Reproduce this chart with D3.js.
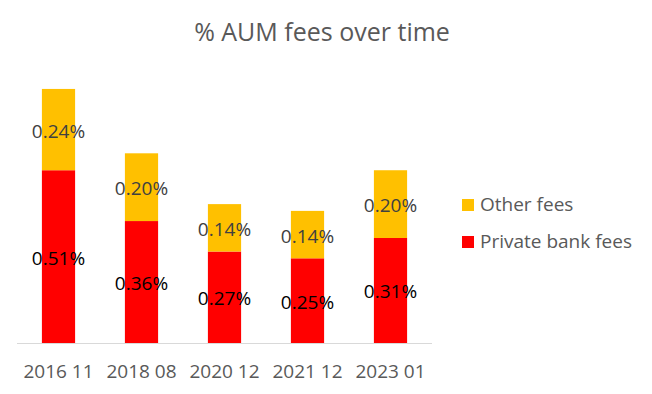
<!DOCTYPE html>
<meta charset="utf-8">
<title>% AUM fees over time</title>
<script src="https://d3js.org/d3.v7.min.js"></script>
<style>
    body { margin: 0; background: #fff; }
    svg text { font-family: "Open Sans", sans-serif; }
</style>
<body>
<div id="chart"></div>
<script>
    // data
    var periods = ["2016 11", "2018 08", "2020 12", "2021 12", "2023 01"];
    var privateBankFees = [0.51, 0.36, 0.27, 0.25, 0.31];
    var otherFees = [0.24, 0.20, 0.14, 0.14, 0.20];
    var seriesNames = ["Private bank fees", "Other fees"];
    var seriesColors = ["#FF0000", "#FFC000"];

    var width = 652, height = 394;
    var svg = d3.select("#chart").append("svg")
        .attr("width", width)
        .attr("height", height);

    // plot area
    var x = d3.scaleBand().domain(periods).range([17, 432]).paddingInner(0.6).paddingOuter(0.3);
    var y = d3.scaleLinear().domain([0, 0.8]).range([343, 72]);

    var rows = periods.map(function (p, i) {
        return { period: p, pb: privateBankFees[i], other: otherFees[i] };
    });
    var stack = d3.stack().keys(["pb", "other"])(rows);

    svg.append("text")
        .attr("x", 322)
        .attr("y", 31)
        .attr("text-anchor", "middle")
        .attr("dominant-baseline", "central")
        .style("font-size", "25px")
        .style("fill", "#595959")
        .text("% AUM fees over time");

    var layers = svg.selectAll("g.layer")
        .data(stack)
        .enter().append("g")
        .attr("class", "layer")
        .attr("fill", function (d, i) { return seriesColors[i]; });

    layers.selectAll("rect")
        .data(function (d) { return d; })
        .enter().append("rect")
        .attr("x", function (d) { return x(d.data.period); })
        .attr("width", x.bandwidth())
        .attr("y", function (d) { return y(d[1]); })
        .attr("height", function (d) { return y(d[0]) - y(d[1]); });

    // segment labels
    layers.each(function (layer, li) {
        d3.select(this).selectAll("text")
            .data(layer)
            .enter().append("text")
            .attr("x", function (d) { return x(d.data.period) + x.bandwidth() / 2; })
            .attr("y", function (d) { return (y(d[0]) + y(d[1])) / 2 + 1; })
            .attr("text-anchor", "middle")
            .attr("dominant-baseline", "central")
            .style("font-size", "19px")
            .style("fill", li === 0 ? "#000" : "#404040")
            .text(function (d) { return (d[1] - d[0]).toFixed(2) + "%"; });
    });

    // x axis
    var xAxis = svg.append("g")
        .attr("transform", "translate(0,343)")
        .call(d3.axisBottom(x).tickSize(0).tickPadding(22));
    xAxis.select(".domain").attr("stroke", "#D9D9D9").attr("d", "M17,0.5H432");
    xAxis.selectAll("text")
        .style("font-family", "'Open Sans', sans-serif")
        .style("font-size", "19px")
        .style("fill", "#595959");

    // legend
    var legendOrder = [1, 0];
    var legend = svg.selectAll("g.legend")
        .data(legendOrder)
        .enter().append("g")
        .attr("class", "legend")
        .attr("transform", function (d, i) { return "translate(462," + (199 + i * 37) + ")"; });
    legend.append("rect")
        .attr("width", 12)
        .attr("height", 12)
        .attr("fill", function (d) { return seriesColors[d]; });
    legend.append("text")
        .attr("x", 18)
        .attr("y", 5)
        .attr("dominant-baseline", "central")
        .style("font-size", "19px")
        .style("fill", "#595959")
        .text(function (d) { return seriesNames[d]; });
</script>
</body>
